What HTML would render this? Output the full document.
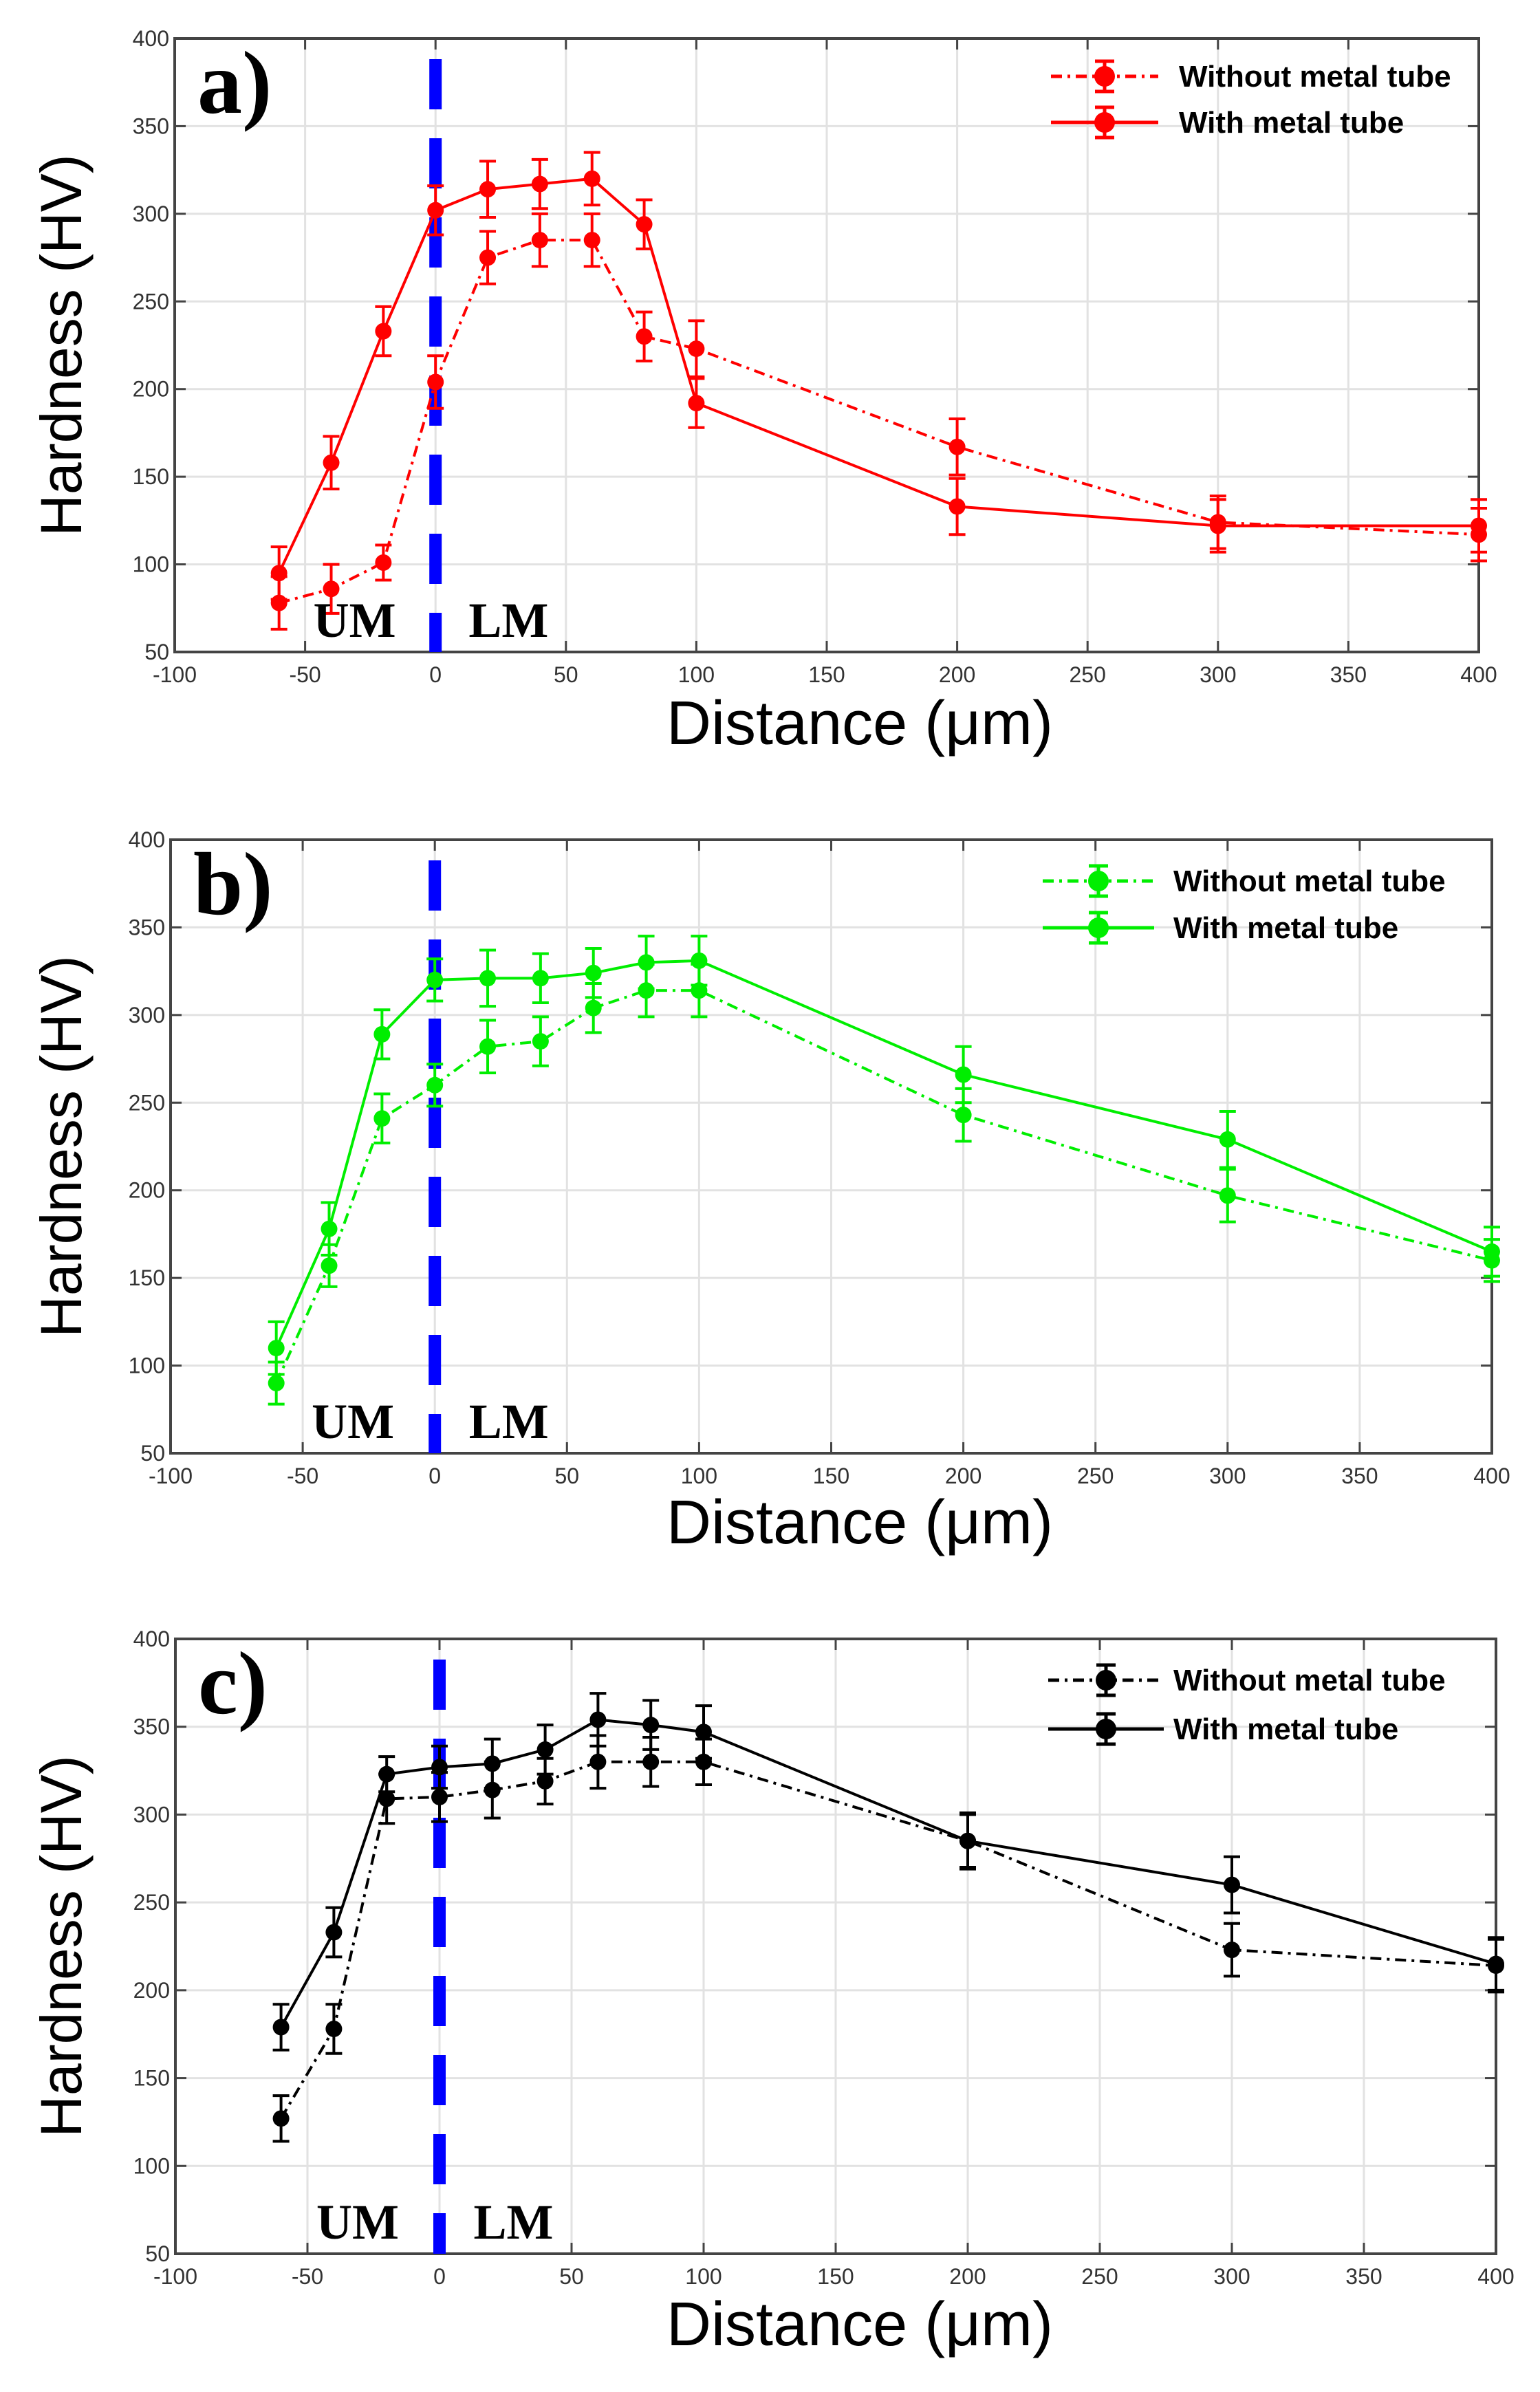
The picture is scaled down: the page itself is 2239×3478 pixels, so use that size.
<!DOCTYPE html>
<html><head><meta charset="utf-8"><style>
html,body{margin:0;padding:0;background:#fff;}
svg{display:block;}
</style></head><body>
<svg id="chart" width="2239" height="3478" viewBox="0 0 2239 3478" xmlns="http://www.w3.org/2000/svg"></svg>
<script>
const distances = [-60,-40,-20,0,20,40,60,80,100,200,300,400];
const xTicks = [-100,-50,0,50,100,150,200,250,300,350,400];
const yTicks = [50,100,150,200,250,300,350,400];
const aWithout = [78,86,101,204,275,285,285,230,223,167,124,117];
const aWith = [95,158,233,302,314,317,320,294,192,133,122,122];
const aErrWithout = [15,14,10,15,15,15,15,14,16,16,15,15];
const aErrWith = [15,15,14,14,16,14,15,14,14,16,15,15];
const bWithout = [90,157,241,260,282,285,304,314,314,243,197,160];
const bWith = [110,178,289,320,321,321,324,330,331,266,229,165];
const bErrWithout = [12,12,14,12,15,14,14,15,15,15,15,12];
const bErrWith = [15,15,14,12,16,14,14,15,14,16,16,14];
const cWithout = [127,178,309,310,314,319,330,330,330,285,223,214];
const cWith = [179,233,323,327,329,337,354,351,347,285,260,215];
const cErrWithout = [13,14,14,14,16,13,15,14,13,15,15,15];
const cErrWith = [13,14,10,12,14,14,15,14,15,16,16,15];

const NS="http://www.w3.org/2000/svg";
const svg=document.getElementById('chart');
function mk(tag,attrs,parent){const e=document.createElementNS(NS,tag);for(const k in attrs)e.setAttribute(k,attrs[k]);(parent||svg).appendChild(e);return e;}

const panels=[
 {key:'a',L:254,R:2150,T:56,B:948,color:'#ff0000',wo:aWithout,w:aWith,ewo:aErrWithout,ew:aErrWith,legY:[111,178],legX:[1528,1684],txtX:1714,titleY:1082},
 {key:'b',L:248,R:2169,T:1221,B:2113,color:'#00ee00',wo:bWithout,w:bWith,ewo:bErrWithout,ew:bErrWith,legY:[1281,1349],legX:[1516,1678],txtX:1706,titleY:2244},
 {key:'c',L:255,R:2175,T:2383,B:3277,color:'#000000',wo:cWithout,w:cWith,ewo:cErrWithout,ew:cErrWith,legY:[2443,2514],legX:[1524,1692],txtX:1706,titleY:3410}
];

panels.forEach(p=>{
  const g=mk('g',{});
  
  
  const xs=v=>p.L+(v+100)/500*(p.R-p.L);
  const ys=v=>p.B-(v-50)/350*(p.B-p.T);
  xTicks.forEach(t=>{
    const l=mk('line',{x1:xs(t),x2:xs(t),y1:p.T,y2:p.B,stroke:'#e2e2e2','stroke-width':3},g);
    
    
  });
  yTicks.forEach(t=>{
    const l=mk('line',{x1:p.L,x2:p.R,y1:ys(t),y2:ys(t),stroke:'#e2e2e2','stroke-width':3},g);
    
    
  });
  xTicks.forEach(t=>{
    mk('line',{x1:xs(t),x2:xs(t),y1:p.B,y2:p.B-16,stroke:'#444','stroke-width':3},g);
    mk('line',{x1:xs(t),x2:xs(t),y1:p.T,y2:p.T+16,stroke:'#444','stroke-width':3},g);
    const tx=mk('text',{x:xs(t),y:p.B+44,'text-anchor':'middle','font-family':'Liberation Sans, sans-serif','font-size':32,fill:'#333'},g);
    tx.textContent=t;
    
    
  });
  yTicks.forEach(t=>{
    mk('line',{x1:p.L,x2:p.L+16,y1:ys(t),y2:ys(t),stroke:'#444','stroke-width':3},g);
    mk('line',{x1:p.R,x2:p.R-16,y1:ys(t),y2:ys(t),stroke:'#444','stroke-width':3},g);
    const tx=mk('text',{x:p.L-8,y:ys(t)+11,'text-anchor':'end','font-family':'Liberation Sans, sans-serif','font-size':32,fill:'#333'},g);
    tx.textContent=t;
    
    
  });
  const box=mk('rect',{x:p.L,y:p.T,width:p.R-p.L,height:p.B-p.T,fill:'none',stroke:'#444','stroke-width':4},g);
  
  
  const bl=mk('line',{x1:xs(0),x2:xs(0),y1:p.T+30,y2:p.B,stroke:'#0000ff','stroke-width':18,'stroke-dasharray':'73 42'},g);
  
  
  const series=[{v:p.wo,e:p.ewo,dash:'16 8 4 8',name:'without'},{v:p.w,e:p.ew,dash:'',name:'with'}];
  series.forEach(s=>{
    const pts=distances.map((d,i)=>xs(d)+','+ys(s.v[i])).join(' ');
    const pl=mk('polyline',{points:pts,fill:'none',stroke:p.color,'stroke-width':4},g);
    if(s.dash)pl.setAttribute('stroke-dasharray',s.dash);
    
    
    distances.forEach((d,i)=>{
      const x=xs(d),y1=ys(s.v[i]-s.e[i]),y2=ys(s.v[i]+s.e[i]);
      const eb=mk('path',{d:`M${x},${y1}V${y2}M${x-12},${y1}H${x+12}M${x-12},${y2}H${x+12}`,stroke:p.color,'stroke-width':4,fill:'none'},g);
      
      
      const c=mk('circle',{cx:x,cy:ys(s.v[i]),r:12,fill:p.color},g);
      
      
    });
  });
  series.forEach((s,k)=>{
    const y=p.legY[k],mx=(p.legX[0]+p.legX[1])/2;
    const ll=mk('line',{x1:p.legX[0],x2:p.legX[1],y1:y,y2:y,stroke:p.color,'stroke-width':5},g);
    if(s.dash)ll.setAttribute('stroke-dasharray',s.dash);
    
    
    mk('path',{d:`M${mx},${y-22}V${y+22}M${mx-14},${y-22}H${mx+14}M${mx-14},${y+22}H${mx+14}`,stroke:p.color,'stroke-width':5},g);
    mk('circle',{cx:mx,cy:y,r:15,fill:p.color},g);
    const t=mk('text',{x:p.txtX,y:y+15,'font-family':'Liberation Sans, sans-serif','font-weight':'bold','font-size':44,fill:'#000'},g);
    t.textContent=k===0?'Without metal tube':'With metal tube';
    
    
  });
  const pl=mk('text',{x:p.L+33,y:p.T+108,'font-family':'Liberation Serif, serif','font-weight':'bold','font-size':130,fill:'#000'},g);
  pl.textContent=p.key+')';
  
  
  const um=mk('text',{x:xs(-31),y:p.B-22,'text-anchor':'middle','font-family':'Liberation Serif, serif','font-weight':'bold','font-size':72,fill:'#000'},g);
  um.textContent='UM';
  
  
  const lm=mk('text',{x:xs(28),y:p.B-22,'text-anchor':'middle','font-family':'Liberation Serif, serif','font-weight':'bold','font-size':72,fill:'#000'},g);
  lm.textContent='LM';
  
  
  const xt=mk('text',{x:1250,y:p.titleY,'text-anchor':'middle','font-family':'Liberation Sans, sans-serif','font-size':90,fill:'#000'},g);
  xt.textContent='Distance (μm)';
  
  
  const cy=(p.T+p.B)/2;
  const yt=mk('text',{x:0,y:0,'text-anchor':'middle','font-family':'Liberation Sans, sans-serif','font-size':84,fill:'#000',transform:`translate(118,${cy}) rotate(-90)`},g);
  yt.textContent='Hardness (HV)';
  
  
});
</script>
</body></html>
